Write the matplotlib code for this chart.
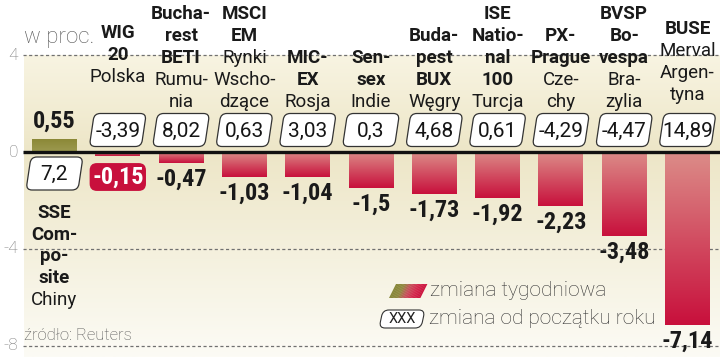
import matplotlib

matplotlib.use("Agg")
import matplotlib.pyplot as plt
import numpy as np
from matplotlib.colors import LinearSegmentedColormap, to_rgb
from matplotlib.patches import FancyBboxPatch, Polygon
from matplotlib.transforms import Affine2D

plt.rcParams["font.family"] = ["Roboto", "DejaVu Sans"]
NUM_FONT = ["Roboto Condensed", "Roboto", "DejaVu Sans"]

# --- data -----------------------------------------------------------------
name_lines = [
    ["SSE", "Com-", "po-", "site"],
    ["WIG", "20"],
    ["Bucha-", "rest", "BETI"],
    ["MSCI", "EM"],
    ["MIC-", "EX"],
    ["Sen-", "sex"],
    ["Buda-", "pest", "BUX"],
    ["ISE", "Natio-", "nal", "100"],
    ["PX-", "Prague"],
    ["BVSP", "Bo-", "vespa"],
    ["BUSE"],
]
country_lines = [
    ["Chiny"],
    ["Polska"],
    ["Rumu-", "nia"],
    ["Rynki", "Wscho-", "dzące"],
    ["Rosja"],
    ["Indie"],
    ["Węgry"],
    ["Turcja"],
    ["Cze-", "chy"],
    ["Bra-", "zylia"],
    ["Merval", "Argen-", "tyna"],
]
weekly = [0.55, -0.15, -0.47, -1.03, -1.04, -1.5, -1.73, -1.92, -2.23, -3.48, -7.14]
ytd = [7.2, -3.39, 8.02, 0.63, 3.03, 0.3, 4.68, 0.61, -4.29, -4.47, 14.89]
yticks = [4, 0, -4, -8]
highlight = 1  # Polska

# --- layout (pixels of the 720x357 picture) --------------------------------
W, H = 720, 357
X0, XS = 54.5, 63.3   # centre of first bar, spacing between bars
Y0, YS = 152.0, 24.2  # zero line, pixels per percent
LEFT = 23

PIX = Affine2D().scale(1, -1).translate(0, H)  # picture pixels -> display


def dx(p):
    return (p - X0) / XS


def dy(p):
    return (Y0 - p) / YS


def fmt(v):
    return f"{v:g}".replace(".", ",")


fig = plt.figure(figsize=(W / 100, H / 100), dpi=100)
ax = fig.add_axes([0, 0, 1, 1])
xlim = (dx(0), dx(W))
ylim = (dy(H), dy(0))

# cream panel
top_c, mid_c, bot_c = to_rgb("#f8f4e2"), to_rgb("#ede6c7"), to_rgb("#fcfbf5")
ys = np.linspace(4, ylim[0], 300)
rgb = np.empty((len(ys), 1, 3))
for k in range(3):
    rgb[:, 0, k] = np.interp(-ys, [-4, 0, -ylim[0]], [top_c[k], mid_c[k], bot_c[k]])
ax.imshow(rgb, extent=[dx(LEFT + 1), xlim[1], ylim[0], 4], aspect="auto", zorder=0)

# grid + zero line
ax.hlines([t for t in yticks if t != 0], dx(LEFT), xlim[1], colors="#707070",
          linestyles=(0, (2.5, 2)), lw=0.9, zorder=1)
ax.hlines(0, dx(LEFT), xlim[1], colors="#111111", lw=2.4, zorder=5)
for t in yticks:
    ax.text(dx(18), t, str(t), ha="right", va="center", color="#7a7a7a",
            fontsize=12.5, fontweight="light")

# bars with vertical gradient
x = np.arange(len(weekly))
red_cmap = LinearSegmentedColormap.from_list("red", ["#dc8c88", "#c8103c"])
olive_cmap = LinearSegmentedColormap.from_list("olive", ["#8a8735", "#9d9a50"])
bars = ax.bar(x, weekly, width=45 / XS, color="none", edgecolor="none", zorder=3)
grad = np.linspace(0, 1, 128).reshape(-1, 1)
for xi, v, bar in zip(x, weekly, bars):
    cmap = olive_cmap if v > 0 else red_cmap
    hw = bar.get_width() / 2
    im = ax.imshow(grad, extent=[xi - hw, xi + hw, min(v, 0), max(v, 0)],
                   cmap=cmap, aspect="auto", zorder=3)
    im.set_clip_path(bar)

# weekly value labels
for xi, v in zip(x, weekly):
    kw = dict(ha="center", va="center", fontsize=17.5, fontweight="bold",
              family=NUM_FONT, zorder=6)
    if xi == highlight:
        ax.text(xi, dy(177), fmt(v), color="white",
                bbox=dict(boxstyle="round,pad=0.1,rounding_size=0.3",
                          fc="#c8103c", ec="none"), **kw)
    elif v > 0:
        ax.text(xi, v + 17 / YS, fmt(v), color="#1a1a1a", **kw)
    else:
        ax.text(xi, v - 16 / YS, fmt(v), color="#1a1a1a", **kw)


def skew_box(cx, cy, w, h, slant=-8.5, lw=0.9):
    box = FancyBboxPatch((cx - w / 2, cy - h / 2), w, h,
                         boxstyle="round,pad=0,rounding_size=6",
                         fc="white", ec="#333333", lw=lw, zorder=6)
    box.set_transform(Affine2D().translate(-cx, -cy).skew_deg(slant, 0)
                      .translate(cx, cy) + PIX)
    ax.add_patch(box)


# year-to-date boxes + category labels
for xi, v in enumerate(ytd):
    cx = X0 + XS * xi
    lines = [(s, "bold") for s in name_lines[xi]] + \
            [(s, "normal") for s in country_lines[xi]]
    if xi == 0:
        cy = 173.5
        baselines = [218 + 21.7 * k for k in range(len(lines))]
    else:
        cy = 130
        bottom = {1: 82, 10: 100}.get(xi, 107)
        baselines = [bottom - 22 * k for k in range(len(lines))][::-1]
    skew_box(cx, cy, 52, 33)
    ax.text(xi, dy(cy + 1), fmt(v), ha="center", va="center", color="#151515",
            fontsize=15, zorder=7)
    for (s, wgt), b in zip(lines, baselines):
        ax.text(xi, dy(b), s, ha="center", va="baseline", color="#1a1a1a",
                fontsize=13.5, fontweight=wgt, zorder=7)

# unit + source
ax.text(dx(LEFT + 1), dy(38), "w proc.", ha="left", va="center", color="#555555",
        fontsize=16, fontweight="light")
ax.text(dx(LEFT + 1), dy(335), "źródło: Reuters", ha="left", va="center",
        color="#555555", fontsize=12, fontweight="light")

# legend: gradient swatch
n_sl = 24
sw_l, sw_r, sw_t, sw_b, sk = 389, 420, 284, 298, 7
sw_cmap = LinearSegmentedColormap.from_list(
    "sw", ["#878637", "#8f8a40", "#c8505c", "#d42a4e", "#cc1540"])
for k in range(n_sl):
    a = sw_l + (sw_r - sw_l) * k / n_sl
    b = sw_l + (sw_r - sw_l) * (k + 1) / n_sl + 0.4
    poly = Polygon([(a, sw_b), (b, sw_b), (b + sk, sw_t), (a + sk, sw_t)],
                   closed=True, fc=sw_cmap(k / (n_sl - 1)), ec="none",
                   transform=PIX, zorder=6)
    ax.add_patch(poly)
ax.text(dx(430), dy(291), "zmiana tygodniowa", ha="left", va="center",
        color="#333333", fontsize=15, fontweight="light")
skew_box(402, 319, 42, 18, slant=-12, lw=0.8)
ax.text(dx(402), dy(319), "XXX", ha="center", va="center", color="#222222",
        fontsize=10.5, zorder=7)
ax.text(dx(429), dy(319), "zmiana od początku roku", ha="left", va="center",
        color="#333333", fontsize=15, fontweight="light")

ax.set_xlim(*xlim)
ax.set_ylim(*ylim)
ax.axis("off")
fig.savefig("out.png", dpi=100, facecolor="white")
